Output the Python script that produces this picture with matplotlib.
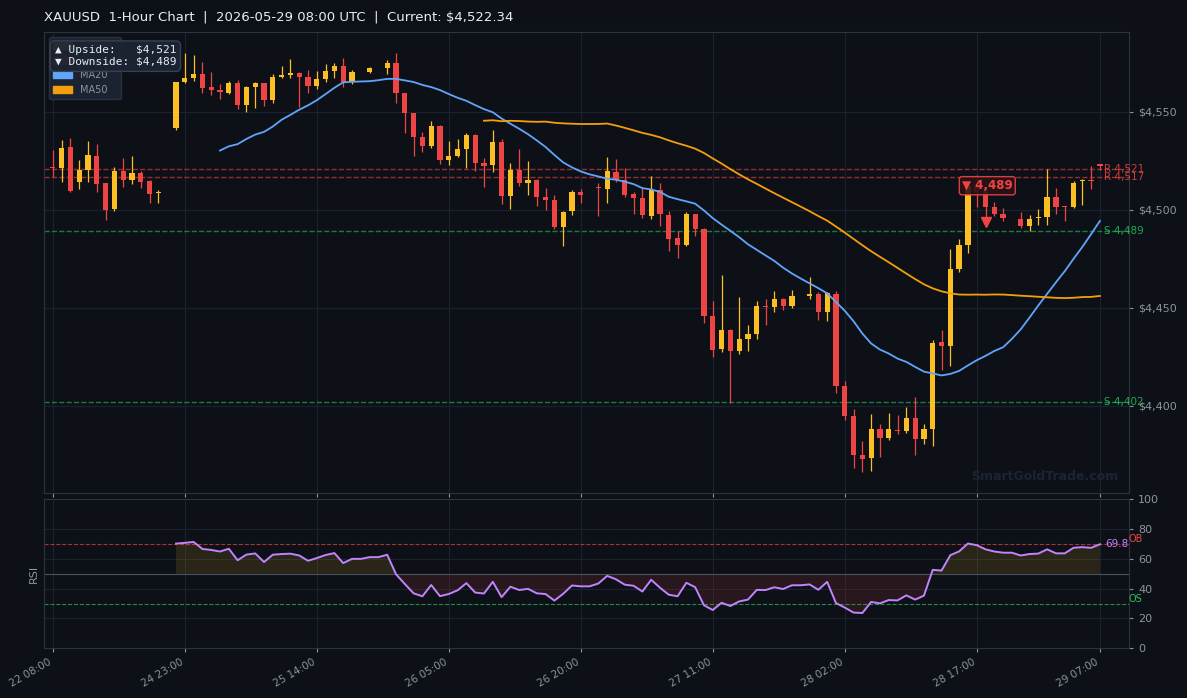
import numpy as np
import pandas as pd
import matplotlib
matplotlib.use("Agg")
import matplotlib.pyplot as plt
from matplotlib.patches import Patch
from matplotlib.ticker import FuncFormatter, MultipleLocator

# XAUUSD 1h candles, 22 May 08:00 -> 29 May 07:00 UTC (weekend collapsed)
opens = [4522.1, 4521.5, 4532.1, 4514.4, 4520.4, 4527.6, 4513.8, 4500.5, 4519.9, 4515.0,
         4518.9, 4514.8, 4508.5, 4509.3, 4542.0, 4565.5, 4567.4, 4569.4, 4562.8, 4561.2,
         4559.7, 4564.8, 4553.6, 4562.8, 4564.8, 4556.1, 4568.0, 4569.0, 4569.6, 4567.9,
         4563.3, 4566.8, 4570.9, 4573.5, 4565.3, 4570.4, 4570.4, 4572.4, 4572.4, 4575.0,
         4559.8, 4549.5, 4537.2, 4532.7, 4542.9, 4525.5, 4527.6, 4531.1, 4538.3, 4524.0,
         4522.9, 4534.7, 4507.1, 4520.4, 4513.8, 4515.3, 4506.6, 4505.1, 4491.3, 4499.5,
         4509.2, 4507.7, 4511.7, 4510.7, 4519.4, 4515.3, 4508.2, 4506.1, 4496.9, 4510.2,
         4497.4, 4485.7, 4482.1, 4498.0, 4490.3, 4445.9, 4429.1, 4438.8, 4427.7, 4434.2,
         4436.7, 4451.0, 4450.5, 4454.6, 4451.0, 4456.1, 4455.8, 4457.1, 4448.1, 4457.1,
         4410.2, 4394.9, 4375.0, 4373.5, 4388.3, 4383.7, 4387.6, 4387.2, 4393.9, 4383.2,
         4388.3, 4432.7, 4430.6, 4469.9, 4482.1, 4512.0, 4509.5, 4501.5, 4498.0, 4496.0,
         4495.4, 4491.8, 4495.6, 4496.4, 4506.6, 4501.9, 4501.5, 4514.8, 4515.3, 4523.4]
highs = [4530.6, 4535.7, 4536.6, 4525.2, 4535.2, 4533.5, 4513.8, 4522.1, 4526.7, 4527.6,
         4519.9, 4515.3, 4510.2, 4509.3, 4565.3, 4579.9, 4579.1, 4575.5, 4570.4, 4564.3,
         4565.8, 4566.3, 4563.3, 4565.3, 4564.8, 4569.4, 4573.5, 4577.0, 4570.4, 4571.4,
         4570.9, 4574.5, 4575.0, 4577.6, 4571.4, 4570.4, 4572.9, 4572.4, 4576.5, 4580.1,
         4559.8, 4549.5, 4539.8, 4545.4, 4543.4, 4535.2, 4536.2, 4539.3, 4538.8, 4526.5,
         4540.8, 4536.2, 4524.0, 4531.1, 4525.0, 4515.8, 4511.2, 4507.7, 4499.5, 4510.2,
         4510.7, 4507.7, 4513.8, 4527.0, 4526.0, 4521.4, 4509.2, 4511.2, 4517.3, 4513.8,
         4499.5, 4489.3, 4499.0, 4498.0, 4490.8, 4453.6, 4466.8, 4439.3, 4455.6, 4441.3,
         4453.6, 4454.6, 4458.7, 4455.1, 4459.2, 4456.1, 4465.8, 4458.2, 4458.2, 4458.7,
         4412.8, 4398.5, 4382.1, 4395.9, 4390.8, 4396.4, 4395.4, 4399.5, 4404.6, 4390.8,
         4433.7, 4438.8, 4480.1, 4485.2, 4513.0, 4518.0, 4511.0, 4504.1, 4501.0, 4496.0,
         4499.0, 4497.4, 4500.5, 4520.9, 4511.2, 4501.9, 4514.8, 4515.8, 4522.4, 4523.4]
lows = [4517.0, 4514.4, 4509.3, 4510.7, 4514.4, 4509.2, 4494.9, 4499.5, 4511.9, 4513.3,
        4511.4, 4503.4, 4503.4, 4509.3, 4540.5, 4564.6, 4566.0, 4559.5, 4558.7, 4556.6,
        4559.2, 4551.5, 4550.0, 4552.0, 4553.1, 4554.6, 4567.4, 4567.4, 4552.6, 4559.7,
        4561.7, 4565.3, 4567.2, 4562.8, 4564.3, 4570.4, 4569.9, 4572.4, 4569.2, 4554.7,
        4539.4, 4527.7, 4529.6, 4531.8, 4523.6, 4523.1, 4527.1, 4521.4, 4520.0, 4511.7,
        4519.5, 4503.1, 4500.5, 4512.2, 4507.7, 4502.2, 4500.0, 4490.3, 4481.6, 4497.4,
        4503.6, 4507.7, 4496.9, 4503.6, 4514.3, 4506.7, 4498.0, 4495.9, 4495.4, 4491.8,
        4479.1, 4475.5, 4481.6, 4486.7, 4442.3, 4425.0, 4427.6, 4401.5, 4426.2, 4428.0,
        4434.2, 4441.3, 4448.1, 4449.1, 4450.0, 4456.1, 4454.6, 4443.9, 4443.4, 4406.6,
        4392.9, 4368.4, 4366.3, 4366.8, 4374.0, 4382.7, 4385.7, 4386.2, 4375.0, 4380.6,
        4379.6, 4418.4, 4420.4, 4468.4, 4478.1, 4501.5, 4495.0, 4497.0, 4494.4, 4496.0,
        4490.8, 4489.3, 4492.3, 4492.3, 4498.0, 4494.4, 4501.0, 4502.6, 4510.7, 4520.5]
closes = [4521.4, 4531.8, 4509.7, 4520.4, 4528.1, 4513.3, 4500.0, 4519.9, 4515.0, 4518.9,
          4514.4, 4508.2, 4509.3, 4509.3, 4565.3, 4567.2, 4569.4, 4562.4, 4561.4, 4559.9,
          4564.8, 4553.6, 4562.8, 4564.8, 4556.1, 4567.9, 4569.0, 4569.6, 4568.0, 4563.3,
          4566.8, 4570.9, 4573.5, 4565.3, 4570.4, 4570.4, 4572.4, 4572.4, 4575.0, 4559.8,
          4549.5, 4537.2, 4532.7, 4542.9, 4525.5, 4527.6, 4531.1, 4538.3, 4524.0, 4522.4,
          4534.7, 4507.1, 4520.4, 4513.8, 4515.3, 4506.6, 4505.1, 4491.3, 4499.0, 4509.2,
          4507.7, 4507.7, 4510.9, 4519.9, 4515.3, 4507.7, 4506.1, 4497.4, 4510.2, 4498.0,
          4485.2, 4482.1, 4498.0, 4490.3, 4445.9, 4428.6, 4438.8, 4427.7, 4434.2, 4436.7,
          4451.0, 4450.6, 4454.6, 4451.0, 4456.1, 4456.1, 4457.1, 4448.1, 4457.7, 4410.2,
          4394.9, 4375.0, 4373.0, 4388.3, 4383.7, 4388.3, 4387.3, 4393.9, 4383.2, 4388.3,
          4432.1, 4430.6, 4469.9, 4482.1, 4512.0, 4509.0, 4501.7, 4498.0, 4496.0, 4496.0,
          4491.8, 4495.4, 4496.4, 4506.6, 4501.5, 4501.5, 4513.8, 4515.3, 4514.6, 4522.34]

tick_pos = [0, 15, 30, 45, 60, 75, 90, 105, 119]
tick_labels = ['22 08:00', '24 23:00', '25 14:00', '26 05:00', '26 20:00',
               '27 11:00', '28 02:00', '28 17:00', '29 07:00']

resistance = [4521, 4517]
support = [4489, 4402]
upside = 4521
downside = 4489
signal_idx = 106
signal_marker = 4494.0
signal_label_y = 4512.3

BG = '#0d1117'
GRID = '#1b2130'
SPINE = '#2b3341'
TXT = '#8b949e'
BULL = '#fbbf24'
BEAR = '#ef4444'
MA20C = '#60a5fa'
MA50C = '#f59e0b'
RSIC = '#c084fc'
GREEN = '#22c55e'

df = pd.DataFrame({'open': opens, 'high': highs, 'low': lows, 'close': closes})
df['ma20'] = df['close'].rolling(20).mean()
df['ma50'] = df['close'].rolling(50).mean()
delta = df['close'].diff()
gain = delta.clip(lower=0).ewm(alpha=1/14, min_periods=14).mean()
loss = (-delta.clip(upper=0)).ewm(alpha=1/14, min_periods=14).mean()
df['rsi'] = 100 - 100 / (1 + gain / loss)

x = np.arange(len(df))

fig = plt.figure(figsize=(11.87, 6.98), dpi=100, facecolor=BG)
ax = fig.add_axes([0.0371, 0.2941, 0.9140, 0.6601], facecolor=BG)
ax2 = fig.add_axes([0.0371, 0.0712, 0.9140, 0.2135], facecolor=BG, sharex=ax)

for a in (ax, ax2):
    for s in a.spines.values():
        s.set_color(SPINE)
    a.grid(True, color=GRID, linewidth=0.8)
    a.set_axisbelow(True)
    a.yaxis.tick_right()
    a.tick_params(colors=TXT, labelsize=8, length=3)

# candles
up = df['close'] >= df['open']
cols = np.where(up, BULL, BEAR)
ax.vlines(x, df['low'], df['high'], colors=cols, linewidth=0.9, zorder=2)
ax.bar(x, (df['close'] - df['open']).abs(), bottom=np.minimum(df['open'], df['close']),
       width=0.6, color=cols, linewidth=0, zorder=3)

ax.plot(x, df['ma20'], color=MA20C, linewidth=1.3, zorder=4)
ax.plot(x, df['ma50'], color=MA50C, linewidth=1.3, zorder=4)

for lv in resistance:
    ax.axhline(lv, color=BEAR, linestyle='--', linewidth=1, alpha=0.6, zorder=1)
    ax.text(119.5, lv, f'R {lv:,}', color=BEAR, fontsize=7.5, va='center', ha='left', alpha=0.85)
for lv in support:
    ax.axhline(lv, color=GREEN, linestyle='--', linewidth=1, alpha=0.6, zorder=1)
    ax.text(119.5, lv, f'S {lv:,}', color=GREEN, fontsize=7.5, va='center', ha='left', alpha=0.85)

# signal
ax.plot(signal_idx, signal_marker, marker='v', color=BEAR, markersize=7, zorder=6)
ax.text(signal_idx + 0.2, signal_label_y, f'▼ {downside:,}', color=BEAR, fontsize=8.5, fontweight='bold',
        ha='center', va='center', zorder=7,
        bbox=dict(boxstyle='round,pad=0.22', facecolor='#2a1216', edgecolor=BEAR, alpha=0.9))

lo, hi = min(lows), max(highs)
pad = 0.05 * (hi - lo)
ax.set_ylim(lo - pad, hi + pad)
ax.set_xlim(-1, 122.3)
ax.yaxis.set_major_locator(MultipleLocator(50))
ax.yaxis.set_major_formatter(FuncFormatter(lambda v, _: f'${v:,.0f}'))
ax.tick_params(axis='x', labelbottom=False)

handles = [Patch(color=BULL, label='Bullish'), Patch(color=BEAR, label='Bearish'),
           Patch(color=MA20C, label='MA20'), Patch(color=MA50C, label='MA50')]
leg = ax.legend(handles=handles, loc='upper left', fontsize=7, facecolor='#1c2333',
                edgecolor='#2b3341', labelcolor=TXT, framealpha=0.95)
leg.set_zorder(8)

ax.text(0.0097, 0.971, f'▲ Upside:   ${upside:,}\n▼ Downside: ${downside:,}',
        transform=ax.transAxes, family='DejaVu Sans Mono', fontsize=8, color='#e6edf3',
        va='top', ha='left', zorder=10,
        bbox=dict(boxstyle='round,pad=0.4', facecolor='#1c2333', edgecolor='#3a4353', alpha=0.95))

ax.text(0.99, 0.022, 'SmartGoldTrade.com', transform=ax.transAxes, ha='right', va='bottom',
        fontsize=9, fontweight='bold', color='#1c2433', zorder=1)

ax.set_title(f'XAUUSD  1-Hour Chart  |  2026-05-29 08:00 UTC  |  Current: ${closes[-1]:,.2f}',
             loc='left', color='#e6edf3', fontsize=9.5, pad=8)

# RSI panel
rsi = df['rsi']
ax2.plot(x, rsi, color=RSIC, linewidth=1.4, zorder=4)
ax2.fill_between(x, rsi, 50, where=rsi >= 50, interpolate=True, color=BULL, alpha=0.12, linewidth=0)
ax2.fill_between(x, rsi, 50, where=rsi < 50, interpolate=True, color=BEAR, alpha=0.12, linewidth=0)
ax2.axhline(70, color=BEAR, linestyle='--', linewidth=0.8, alpha=0.7)
ax2.axhline(30, color=GREEN, linestyle='--', linewidth=0.8, alpha=0.7)
ax2.axhline(50, color='#4a5260', linewidth=0.8)
ax2.text(122.3, 70, 'OB', color=BEAR, fontsize=7, va='bottom', ha='left')
ax2.text(122.3, 30, 'OS', color=GREEN, fontsize=7, va='bottom', ha='left')
ax2.text(119.6, rsi.iloc[-1], f'{rsi.iloc[-1]:.1f}', color=RSIC, fontsize=7.5, va='center', ha='left')
ax2.set_ylim(0, 100)
ax2.yaxis.set_major_locator(MultipleLocator(20))
ax2.set_ylabel('RSI', color=TXT, fontsize=8)
ax2.set_xticks(tick_pos)
ax2.set_xticklabels(tick_labels, rotation=30, ha='right', fontsize=7.5)

plt.savefig('out.png', dpi=100, facecolor=BG)
plt.close()
